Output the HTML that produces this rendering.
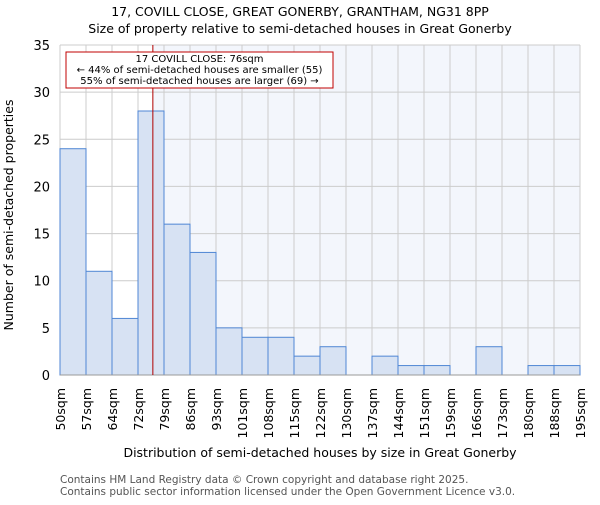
<!DOCTYPE html>
<html><head><meta charset="utf-8"><style>body{margin:0;background:#fff}svg{font-family:"DejaVu Sans","Liberation Sans",sans-serif}</style></head>
<body>
<svg width="600" height="500" id="c">
<text x="300" y="16" text-anchor="middle" font-size="12.5">17, COVILL CLOSE, GREAT GONERBY, GRANTHAM, NG31 8PP</text>
<text x="300" y="33" text-anchor="middle" font-size="12.5">Size of property relative to semi-detached houses in Great Gonerby</text>
<g id="plot"></g>
<text x="320" y="457" text-anchor="middle" font-size="12.5">Distribution of semi-detached houses by size in Great Gonerby</text>
<text transform="translate(13,215) rotate(-90)" text-anchor="middle" font-size="12.5">Number of semi-detached properties</text>
<text x="60" y="483" font-size="10.5" fill="#555">Contains HM Land Registry data © Crown copyright and database right 2025.</text>
<text x="60" y="495" font-size="10.5" fill="#555">Contains public sector information licensed under the Open Government Licence v3.0.</text>
</svg>
<script>
const binEdges=[50,57,64,72,79,86,93,101,108,115,122,130,137,144,151,159,166,173,180,188,195];
const counts=[24,11,6,28,16,13,5,4,4,2,3,0,2,1,1,0,3,0,1,1];
const yTicks=[0,5,10,15,20,25,30,35];
const subjectSize=76;
const NS='http://www.w3.org/2000/svg';
const L=60,R=580,T=45,B=375,yMax=35,n=counts.length;
const xi=i=>L+(R-L)*i/n;
const y=v=>B-(B-T)*v/yMax;
function xv(v){for(let i=0;i<n;i++){if(v<=binEdges[i+1])return xi(i)+(v-binEdges[i])/(binEdges[i+1]-binEdges[i])*(xi(i+1)-xi(i));}return R;}
const g=document.getElementById('plot');
function mk(t,a,p){const e=document.createElementNS(NS,t);for(const k in a)e.setAttribute(k,a[k]);(p||g).appendChild(e);return e;}
const sx=xv(subjectSize);
let e=mk('rect',{x:L,y:T,width:sx-L,height:B-T,fill:'#ffffff'});


e=mk('rect',{x:sx,y:T,width:R-sx,height:B-T,fill:'#f3f6fc'});


for(let i=0;i<=n;i++){e=mk('line',{x1:xi(i),x2:xi(i),y1:T,y2:B,stroke:'#cccccc'});

}
yTicks.forEach(v=>{e=mk('line',{x1:L,x2:R,y1:y(v),y2:y(v),stroke:'#cccccc'});


e=mk('text',{x:L-10,y:y(v)+5,'text-anchor':'end','font-size':'13'});e.textContent=v;

});
counts.forEach((c,i)=>{if(c>0){e=mk('rect',{x:xi(i),y:y(c),width:xi(i+1)-xi(i),height:B-y(c),fill:'#d7e2f3',stroke:'#4f86d4','stroke-width':1});

}});
e=mk('line',{x1:L,x2:R,y1:B,y2:B,stroke:'#999'});


binEdges.forEach((b,i)=>{e=mk('text',{transform:`translate(${xi(i)+5},388) rotate(-90)`,'text-anchor':'end','font-size':'12.5'});e.textContent=b+'sqm';

});
e=mk('line',{x1:sx,x2:sx,y1:T,y2:B,stroke:'#b00000','stroke-width':1});


e=mk('rect',{x:66,y:52,width:267,height:36,fill:'#fff',stroke:'#c00000'});


[['17 COVILL CLOSE: 76sqm',62],['← 44% of semi-detached houses are smaller (55)',73],['55% of semi-detached houses are larger (69) →',84]].forEach(([t,yy])=>{e=mk('text',{x:199.5,y:yy,'text-anchor':'middle','font-size':'10'});e.textContent=t;

});
</script>
</body></html>
